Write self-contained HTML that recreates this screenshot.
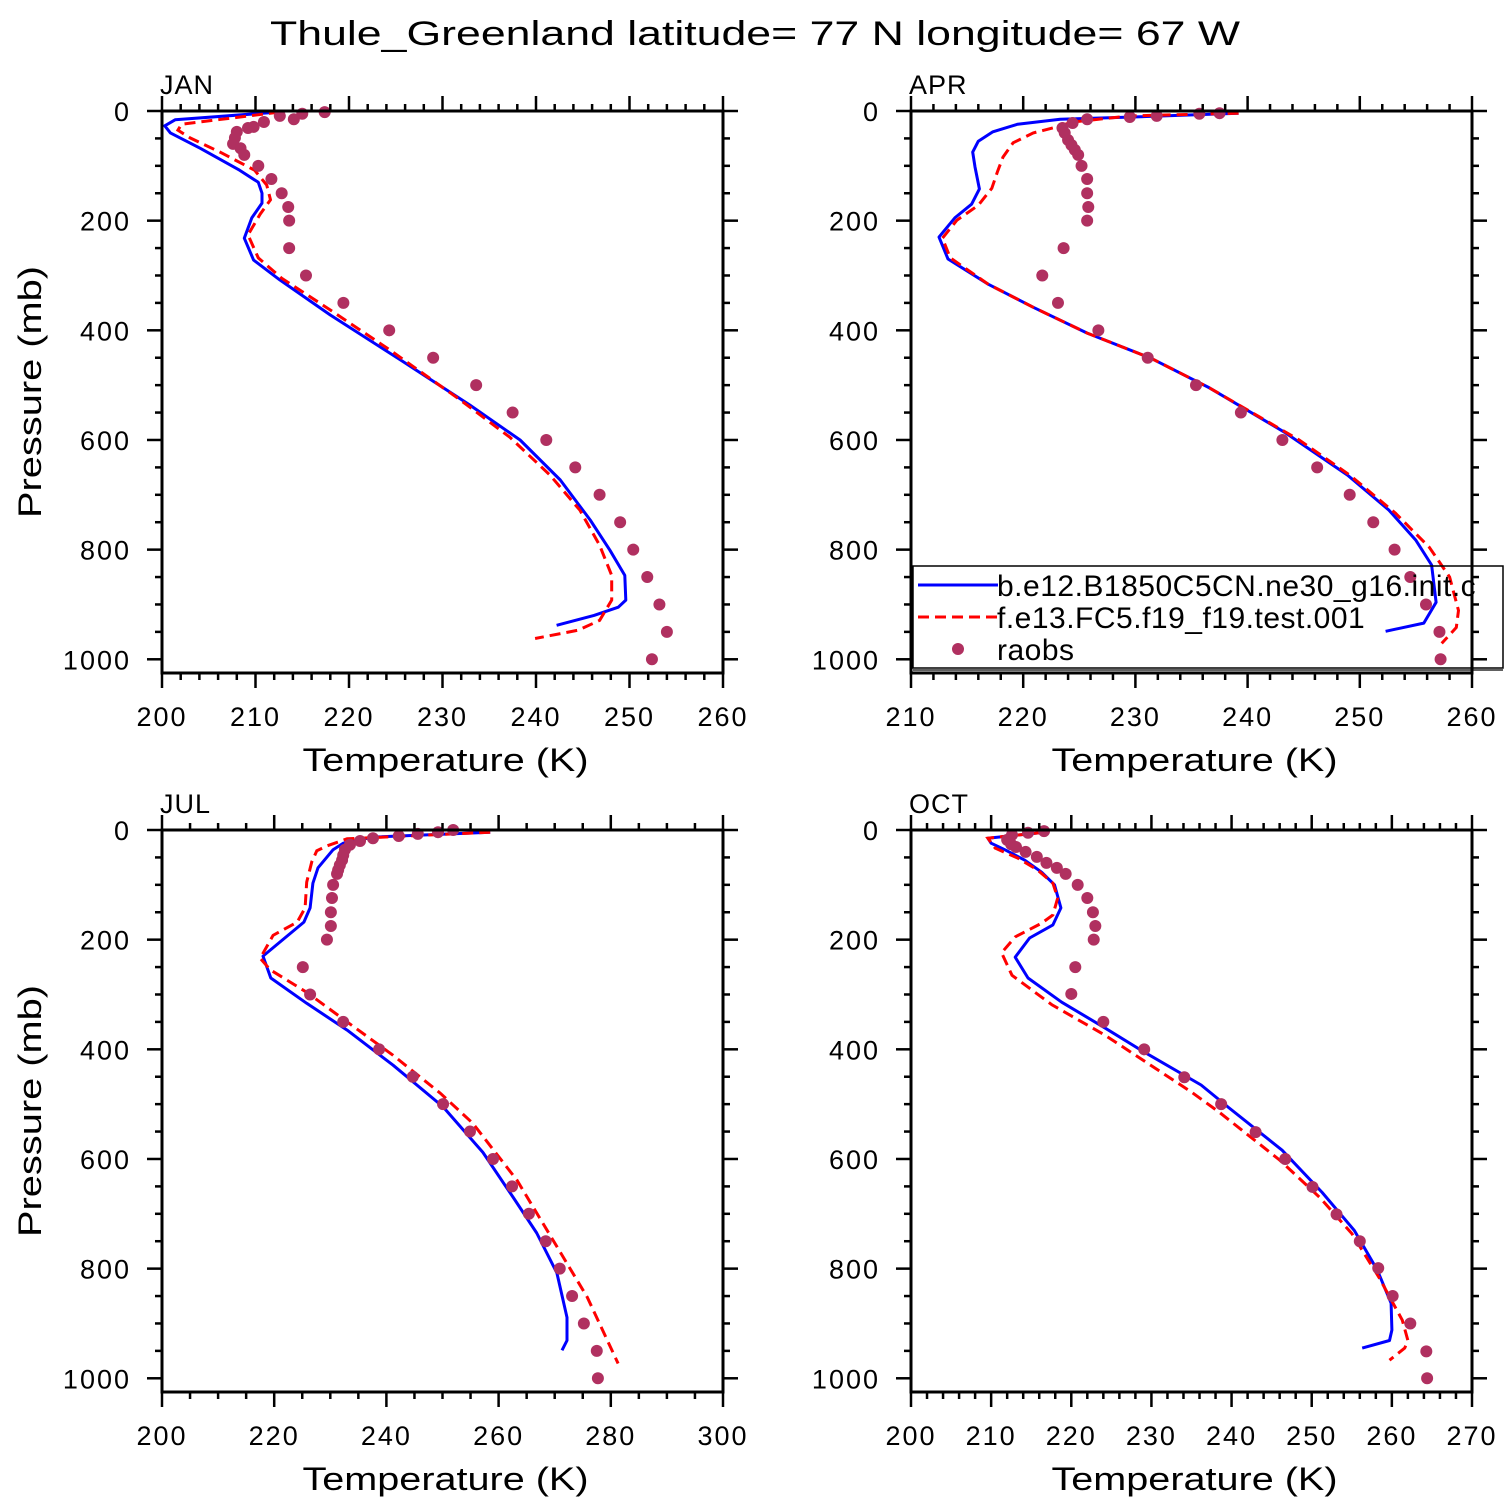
<!DOCTYPE html>
<html><head><meta charset="utf-8">
<style>
html,body{margin:0;padding:0;background:#fff;}
svg{display:block;font-family:"Liberation Sans",sans-serif;}
</style></head>
<body>
<svg id="chart" width="1510" height="1510" viewBox="0 0 1510 1510" xmlns="http://www.w3.org/2000/svg">
<rect width="1510" height="1510" fill="#fff"/>
<text x="755" y="45" font-size="34" text-anchor="middle" textLength="970" lengthAdjust="spacingAndGlyphs">Thule_Greenland  latitude= 77 N longitude= 67 W</text>
</svg>
<script>
// ---------- data (temperature K, pressure mb) ----------
const janModelT = [212.4,201.4,200.3,200.9,204.1,208.3,210.3,210.7,210.7,209.6,208.8,209.8,212.6,218.0,225.5,232.9,238.3,242.6,245.8,247.9,249.5,249.6,248.8,246.2,242.2];
const janModelP = [2,16,27,40,68,108,130,150,168,195,232,272,308,372,454,536,600,673,746,801,847,892,905,920,938];
const janTestT = [212.6,202.1,201.7,203.0,206.2,209.9,211.2,211.6,210.5,209.2,210.3,212.8,218.0,224.4,231.9,237.2,241.5,244.7,246.8,248.1,248.1,246.8,244.5,239.9];
const janTestP = [2,24,35,49,75,108,135,162,188,226,268,305,363,436,527,595,664,728,792,847,892,929,947,962];
const janObsT = [217.4,215.0,214.1,212.6,210.9,209.8,209.2,208.0,207.8,207.6,208.4,208.8,210.3,211.7,212.8,213.5,213.6,213.6,215.4,219.4,224.3,229.0,233.6,237.5,241.1,244.2,246.8,249.0,250.4,251.9,253.2,254.0,252.4];
const janObsP = [2,5,15,9,20,29,31,38,49,60,68,80,100,124,150,175,200,250,300,350,400,450,500,550,600,650,700,750,800,850,900,950,1000];

const aprModelT = [239.2,229.8,223.3,219.5,217.3,216.0,215.5,215.7,216.1,215.4,213.9,212.5,213.3,216.9,220.9,225.7,231.4,236.6,243.3,248.9,252.6,255.0,256.4,256.8,255.7,252.3];
const aprModelP = [4,11,15,24,38,55,75,102,142,170,195,230,270,316,358,405,451,505,586,664,728,783,828,896,934,949];
const aprTestT = [239.2,229.5,224.4,223.0,220.9,219.1,218.2,217.7,217.2,216.0,214.1,212.8,213.5,216.9,220.9,225.7,231.4,236.6,244.6,249.1,253.2,256.2,258.0,258.8,258.6,257.3];
const aprTestP = [4,9,20,29,40,58,84,111,141,172,199,232,268,316,358,405,451,505,600,664,734,796,850,911,942,971];
const aprObsT = [237.5,235.7,231.9,229.5,225.7,224.4,223.5,223.7,224.0,224.3,224.6,224.9,225.2,225.7,225.7,225.8,225.7,223.6,221.7,223.1,226.7,231.1,235.4,239.4,243.1,246.2,249.1,251.2,253.1,254.5,255.9,257.1,257.2];
const aprObsP = [4,5,9,11,15,22,31,40,53,62,71,80,100,124,150,175,200,250,300,350,400,450,500,550,600,650,700,750,800,850,900,950,1000];

const julModelT = [258.5,237.6,232.3,230.5,227.8,226.9,226.4,225.3,218.0,219.4,225.8,233.0,241.2,250.1,257.2,262.6,266.8,270.4,272.2,272.2,271.3];
const julModelP = [4,13,24,36,69,97,142,168,230,270,316,365,429,505,588,670,735,808,889,931,949];
const julTestT = [258.5,233.0,229.4,227.6,226.7,225.8,225.5,224.1,219.8,217.5,219.3,225.8,233.0,241.2,249.6,255.4,263.3,269.7,275.8,281.3];
const julTestP = [4,16,29,38,58,95,142,168,192,234,255,296,350,411,480,535,639,748,852,973];
const julObsT = [251.9,249.2,245.6,242.2,237.6,235.3,233.5,232.6,232.3,232.1,231.7,231.4,231.2,230.5,230.3,230.1,230.1,229.4,225.1,226.4,232.3,238.7,244.7,250.1,254.9,259.0,262.4,265.4,268.4,270.9,273.1,275.2,277.5,277.7];
const julObsP = [0,4,7,11,15,20,27,36,46,55,64,73,80,100,124,150,175,200,250,300,350,400,450,500,550,600,650,700,750,800,850,900,950,1000];

const octModelT = [216.7,209.6,210.0,211.7,214.2,216.3,217.9,218.7,217.7,214.8,213.0,214.6,218.8,224.2,229.1,236.2,239.7,246.3,251.3,255.3,258.2,259.9,260.0,259.7,256.3];
const octModelP = [4,15,24,36,55,77,100,142,173,197,232,270,314,361,405,465,507,584,661,730,803,863,912,931,945];
const octTestT = [216.7,209.6,210.5,213.3,215.8,217.7,218.3,217.7,216.3,213.0,211.3,212.6,217.6,224.2,235.0,238.5,246.0,251.0,255.0,258.4,261.3,262.0,261.6,259.7];
const octTestP = [4,15,33,51,73,97,124,155,170,195,224,265,319,374,478,515,602,670,736,816,894,931,945,967];
const octObsT = [216.6,214.6,212.6,212.0,212.5,213.1,214.3,215.7,216.9,218.2,219.3,220.8,222.0,222.7,223.0,222.8,220.5,220.0,224.0,229.1,234.1,238.7,243.0,246.7,250.1,253.1,256.0,258.3,260.1,262.3,264.3,264.4];
const octObsP = [2,5,9,18,26,31,40,49,60,69,80,100,124,150,175,200,250,299,350,400,451,500,551,600,651,701,750,799,850,900,951,1000];

const monthNames = ["JAN","APR","JUL","OCT"];
const pressureTicks = [0,200,400,600,800,1000];
const janTempTicks = [200,210,220,230,240,250,260];
const aprTempTicks = [210,220,230,240,250,260];
const julTempTicks = [200,220,240,260,280,300];
const octTempTicks = [200,210,220,230,240,250,260,270];
const legendLabels = ["b.e12.B1850C5CN.ne30_g16.init.c","f.e13.FC5.f19_f19.test.001","raobs"];

// ---------- drawing ----------
const NS = "http://www.w3.org/2000/svg";
const svg = document.getElementById('chart');
function mk(tag, attrs, parent){
  const e = document.createElementNS(NS, tag);
  for (const k in attrs) e.setAttribute(k, attrs[k]);
  (parent||svg).appendChild(e);
  return e;
}
const panels = [
  {x0:162,y0:111,tmin:200,tmax:260,minor:2,ticks:janTempTicks,mT:janModelT,mP:janModelP,fT:janTestT,fP:janTestP,oT:janObsT,oP:janObsP},
  {x0:911,y0:111,tmin:210,tmax:260,minor:2,ticks:aprTempTicks,mT:aprModelT,mP:aprModelP,fT:aprTestT,fP:aprTestP,oT:aprObsT,oP:aprObsP},
  {x0:162,y0:830,tmin:200,tmax:300,minor:5,ticks:julTempTicks,mT:julModelT,mP:julModelP,fT:julTestT,fP:julTestP,oT:julObsT,oP:julObsP},
  {x0:911,y0:830,tmin:200,tmax:270,minor:2,ticks:octTempTicks,mT:octModelT,mP:octModelP,fT:octTestT,fP:octTestP,oT:octObsT,oP:octObsP}
];
const W = 561, H = 562, PMAX = 1025;
panels.forEach((pn, i) => {
  const g = mk('g', {});
  
  
  const xs = t => pn.x0 + (t - pn.tmin) / (pn.tmax - pn.tmin) * W;
  const ys = p => pn.y0 + p / PMAX * H;
  const pts = (T, P) => T.map((t, k) => xs(t).toFixed(1) + ',' + ys(P[k]).toFixed(1)).join(' ');
  const bl = mk('polyline', {points: pts(pn.mT, pn.mP), fill:'none', stroke:'#0000ff', 'stroke-width':3, 'stroke-linejoin':'round'}, g);
  
  
  const rl = mk('polyline', {points: pts(pn.fT, pn.fP), fill:'none', stroke:'#ff0000', 'stroke-width':3, 'stroke-dasharray':'11,6'}, g);
  
  
  pn.oT.forEach((t, k) => {
    const c = mk('circle', {cx: xs(t), cy: ys(pn.oP[k]), r: 6, fill:'#b03060'}, g);
    
    
  });
  const fr = mk('rect', {x:pn.x0, y:pn.y0, width:W, height:H, fill:'none', stroke:'#000', 'stroke-width':3}, g);
  
  
  for (let t = pn.tmin; t <= pn.tmax + 1e-9; t += pn.minor) {
    const x = xs(t);
    const major = pn.ticks.includes(Math.round(t));
    const L = major ? 15 : 7;
    mk('line', {x1:x, y1:pn.y0, x2:x, y2:pn.y0 - L, stroke:'#000', 'stroke-width':2.5}, g);
    mk('line', {x1:x, y1:pn.y0 + H, x2:x, y2:pn.y0 + H + L, stroke:'#000', 'stroke-width':2.5}, g);
  }
  pn.ticks.forEach(t => {
    const tx = mk('text', {x: xs(t), y: pn.y0 + H + 53, 'font-size':27, 'letter-spacing':2, 'text-anchor':'middle'}, g);
    
    
    tx.textContent = t;
  });
  for (let p = 0; p <= PMAX; p += 50) {
    const y = ys(p);
    const L = (p % 200 === 0) ? 15 : 7;
    mk('line', {x1:pn.x0, y1:y, x2:pn.x0 - L, y2:y, stroke:'#000', 'stroke-width':2.5}, g);
    mk('line', {x1:pn.x0 + W, y1:y, x2:pn.x0 + W + L, y2:y, stroke:'#000', 'stroke-width':2.5}, g);
  }
  pressureTicks.forEach(p => {
    const ty = mk('text', {x: pn.x0 - 31, y: ys(p) + 10, 'font-size':27, 'letter-spacing':2, 'text-anchor':'end'}, g);
    
    
    ty.textContent = p;
  });
  const mt = mk('text', {x: pn.x0 - 2, y: pn.y0 - 17, 'font-size':27, 'letter-spacing':1}, g);
  
  
  mt.textContent = monthNames[i];
  const xt = mk('text', {x: pn.x0 + W/2 + 3, y: pn.y0 + H + 98, 'font-size':32, 'text-anchor':'middle', textLength:286, lengthAdjust:'spacingAndGlyphs'}, g);
  
  
  xt.textContent = 'Temperature (K)';
  if (i % 2 === 0) {
    const cy = pn.y0 + 281;
    const yt = mk('text', {x: 41, y: cy, 'font-size':32, 'text-anchor':'middle', transform:'rotate(-90 41 ' + cy + ')', textLength:252, lengthAdjust:'spacingAndGlyphs'}, g);
    
    
    yt.textContent = 'Pressure (mb)';
  }
});
const lg = mk('g', {});


mk('rect', {x:913, y:566, width:590, height:102, fill:'none', stroke:'#000', 'stroke-width':1.5}, lg);
mk('line', {x1:913, y1:670, x2:1503, y2:670, stroke:'#000', 'stroke-width':1.2}, lg);
const rowsY = [585, 617, 649];
const e1 = mk('line', {x1:918, y1:rowsY[0], x2:998, y2:rowsY[0], stroke:'#0000ff', 'stroke-width':3}, lg);


const e2 = mk('line', {x1:918, y1:rowsY[1], x2:998, y2:rowsY[1], stroke:'#ff0000', 'stroke-width':3, 'stroke-dasharray':'11,6'}, lg);


const e3 = mk('circle', {cx:958, cy:rowsY[2], r:6, fill:'#b03060'}, lg);


legendLabels.forEach((s, k) => {
  const t = mk('text', {x:997, y: rowsY[k] + 11, 'font-size':30, 'letter-spacing':0.5}, lg);
  
  
  t.textContent = s;
});
</script>
</body></html>
